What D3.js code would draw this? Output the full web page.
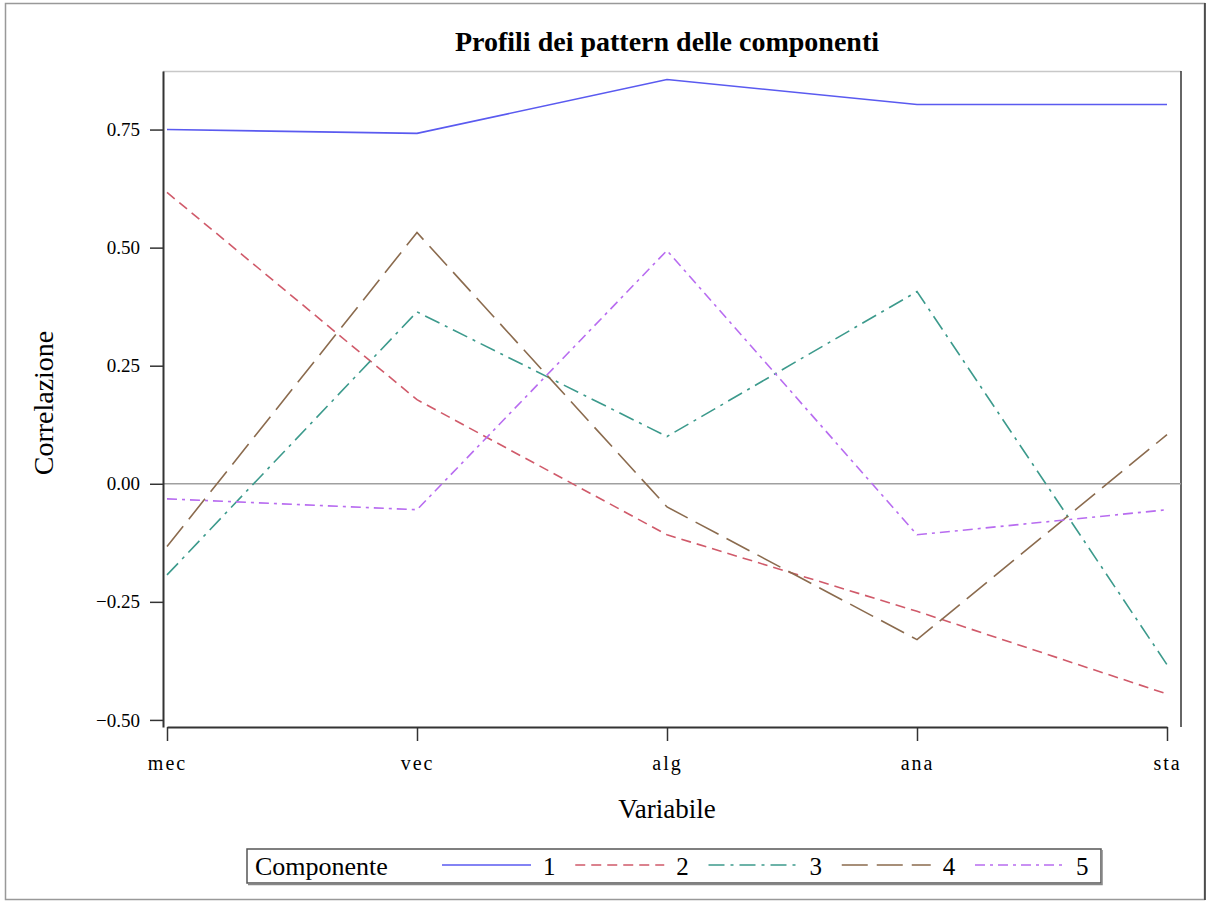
<!DOCTYPE html>
<html>
<head>
<meta charset="utf-8">
<script src="https://cdn.jsdelivr.net/npm/d3@7"></script>
<style>
body { margin: 0; background: #fff; }
text { font-family: "Liberation Serif", "Times New Roman", serif; }
</style>
</head>
<body>
<div id="chart"></div>
<script>
// Data
var VARIABLES = ["mec", "vec", "alg", "ana", "sta"];
var COMPONENTS = ["1", "2", "3", "4", "5"];
var comp1 = [0.750, 0.742, 0.856, 0.803, 0.803];
var comp2 = [0.617, 0.178, -0.108, -0.270, -0.445];
var comp3 = [-0.193, 0.364, 0.100, 0.407, -0.383];
var comp4 = [-0.133, 0.532, -0.049, -0.330, 0.104];
var comp5 = [-0.032, -0.055, 0.494, -0.108, -0.055];
var Y_TICKS = [-0.50, -0.25, 0.00, 0.25, 0.50, 0.75];

var series = [comp1, comp2, comp3, comp4, comp5];
var colors = ["#5a5af0", "#d05a6a", "#3c9a8c", "#8b6b4e", "#b86cf0"];
var dashes = ["none", "10,6", "16,6,3,6", "26,9", "10,5,3,5"];

var W = 1211, H = 904;
var margin = {left: 163, right: 30, top: 71, bottom: 177};
var width = W - margin.left - margin.right,
    height = H - margin.top - margin.bottom;

var svg = d3.select("#chart").append("svg")
    .attr("width", W)
    .attr("height", H);

// outer frame
svg.append("rect")
    .attr("x", 5.5).attr("y", 3.5)
    .attr("width", 1199).attr("height", 896)
    .attr("fill", "none").attr("stroke", "#999").attr("stroke-width", 1.5);
svg.append("path")
    .attr("d", "M1205,3 V900")
    .attr("stroke", "#333").attr("stroke-width", 1.5);

var g = svg.append("g")
    .attr("transform", "translate(" + margin.left + "," + margin.top + ")");

var scaleX = d3.scalePoint()
    .domain(VARIABLES)
    .range([4, width - 14]);

var scaleY = d3.scaleLinear()
    .domain([-0.515, 0.874])
    .range([height, 0]);

// plot wall border
g.append("path")
    .attr("d", "M0,0.5 H" + width)
    .attr("stroke", "#c8c8c8").attr("stroke-width", 1.5);
g.append("path")
    .attr("d", "M" + width + ",0 V" + height)
    .attr("stroke", "#333").attr("stroke-width", 1.5);

// reference line at zero
g.append("line")
    .attr("x1", 0).attr("x2", width)
    .attr("y1", scaleY(0)).attr("y2", scaleY(0))
    .attr("stroke", "#a0a0a0").attr("stroke-width", 1.5);

// axes
var yAxis = g.append("g")
    .call(d3.axisLeft(scaleY).tickValues(Y_TICKS).tickFormat(d3.format(".2f"))
        .tickSize(13).tickSizeOuter(0).tickPadding(10));
var xAxis = g.append("g")
    .attr("transform", "translate(0," + height + ")")
    .call(d3.axisBottom(scaleX).tickSize(14).tickSizeOuter(0).tickPadding(15));

[yAxis, xAxis].forEach(function(a) {
    a.attr("font-size", null);
    a.select(".domain").attr("stroke", "#333").attr("stroke-width", 2);
    a.selectAll(".tick line").attr("stroke", "#333").attr("stroke-width", 1.5);
    a.selectAll(".tick text")
        .attr("fill", "#000")
        .style("font-size", "19px")
        .style("font-family", "'Liberation Serif', serif");
});
xAxis.selectAll(".tick text")
    .style("font-size", "20px")
    .style("letter-spacing", "2px");

// lines
var line = d3.line()
    .x(function(d, i) { return scaleX(VARIABLES[i]); })
    .y(function(d) { return scaleY(d); });

g.selectAll(".series")
    .data(series)
    .enter().append("path")
    .attr("class", "series")
    .attr("d", line)
    .attr("fill", "none")
    .attr("stroke", function(d, i) { return colors[i]; })
    .attr("stroke-width", 1.6)
    .attr("stroke-dasharray", function(d, i) { return dashes[i]; });

// titles
svg.append("text")
    .attr("x", 667).attr("y", 51)
    .attr("text-anchor", "middle")
    .style("font-size", "28px").style("font-weight", "bold")
    .text("Profili dei pattern delle componenti");

svg.append("text")
    .attr("transform", "translate(53,403) rotate(-90)")
    .attr("text-anchor", "middle")
    .style("font-size", "28px")
    .text("Correlazione");

svg.append("text")
    .attr("x", 667).attr("y", 818)
    .attr("text-anchor", "middle")
    .style("font-size", "27px")
    .text("Variabile");

// legend
var leg = svg.append("g");
leg.append("rect")
    .attr("x", 247).attr("y", 849)
    .attr("width", 854).attr("height", 34)
    .attr("fill", "#fff").attr("stroke", "#555").attr("stroke-width", 1.5);
leg.append("path")
    .attr("d", "M248,884.5 H1102 V850")
    .attr("fill", "none").attr("stroke", "#888").attr("stroke-width", 1.5);
leg.append("text")
    .attr("x", 255).attr("y", 875)
    .style("font-size", "26px")
    .text("Componente");

var legX = d3.scaleLinear().domain([0, 4]).range([442, 975]);
var item = leg.selectAll(".item")
    .data(COMPONENTS)
    .enter().append("g")
    .attr("transform", function(d, i) { return "translate(" + legX(i) + ",0)"; });
item.append("line")
    .attr("x1", 0).attr("x2", 89)
    .attr("y1", 865).attr("y2", 865)
    .attr("stroke", function(d, i) { return colors[i]; })
    .attr("stroke-width", 1.6)
    .attr("stroke-dasharray", function(d, i) { return dashes[i]; });
item.append("text")
    .attr("x", 101).attr("y", 875)
    .style("font-size", "25px")
    .text(function(d) { return d; });
</script>
</body>
</html>
